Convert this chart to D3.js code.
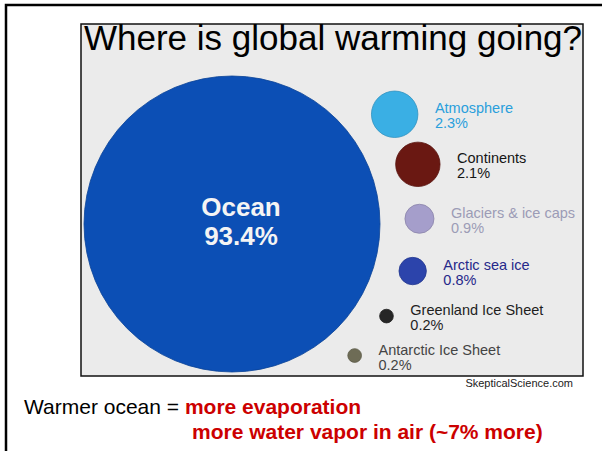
<!DOCTYPE html>
<html>
<head>
<meta charset="utf-8">
<script src="https://cdn.jsdelivr.net/npm/d3@7"></script>
<style>
  html, body { margin: 0; padding: 0; background: #fff; }
  svg { display: block; font-family: "Liberation Sans", Arial, sans-serif; }
</style>
</head>
<body>
<script>
// ---- data ----
const categories = ["Ocean", "Atmosphere", "Continents", "Glaciers & ice caps", "Arctic sea ice", "Greenland Ice Sheet", "Antarctic Ice Sheet"];
const shares = [93.4, 2.3, 2.1, 0.9, 0.8, 0.2, 0.2];
const titleText = "Where is global warming going?";
const sourceText = "SkepticalScience.com";
const noteLead = "Warmer ocean = ";
const noteLines = ["more evaporation", "more water vapor in air (~7% more)"];

const fillColors = ["#0c4fb5", "#3aafe4", "#6a1812", "#a59ecb", "#2c44ab", "#262626", "#6e6c56"];
const textColors = ["#f4f4f4", "#2a9fdc", "#151515", "#9c9cb6", "#26288a", "#1e1e1e", "#444444"];

const W = 602, H = 451;
const svg = d3.select("body").append("svg").attr("width", W).attr("height", H);

// outer slide frame
svg.append("rect").attr("x", 6).attr("y", 5).attr("width", W + 20).attr("height", H + 20)
  .attr("fill", "#fff").attr("stroke", "#000").attr("stroke-width", 2.5);

// chart panel
const panel = { x: 81, y: 24, w: 502, h: 352 };
svg.append("rect").attr("x", panel.x).attr("y", panel.y).attr("width", panel.w).attr("height", panel.h)
  .attr("fill", "#ebebeb").attr("stroke", "#111").attr("stroke-width", 1.5);

svg.append("text").attr("x", 84).attr("y", 50).attr("font-size", 35).attr("fill", "#000")
  .text(titleText);

const data = categories.map((c, i) => ({ name: c, value: shares[i], fill: fillColors[i], tc: textColors[i] }));

const rScale = d3.scaleSqrt().domain([0, d3.max(shares)]).range([0, 148]);
const big = data[0];
const cx0 = 232, cy0 = 224;
big.r = rScale(big.value); big.cx = cx0; big.cy = cy0;

const small = data.slice(1);
const angle = d3.scalePoint().domain(small.map(d => d.name)).range([-34, 47]);
const gap = 25;
small.forEach(d => {
  d.r = rScale(d.value);
  const a = angle(d.name) * Math.PI / 180;
  const dist = big.r + gap + d.r;
  d.cx = cx0 + dist * Math.cos(a);
  d.cy = cy0 + dist * Math.sin(a);
});

const fmt = v => d3.format(".1f")(v) + "%";

svg.append("g").selectAll("circle").data(data).join("circle")
  .attr("cx", d => d.cx).attr("cy", d => d.cy).attr("r", d => d.r)
  .attr("fill", d => d.fill)
  .attr("stroke", d => d3.color(d.fill).darker(0.5)).attr("stroke-width", 0.8);

// ocean label
const ol = svg.append("text").attr("text-anchor", "middle").attr("font-weight", "bold")
  .attr("font-size", 26).attr("fill", big.tc);
ol.append("tspan").attr("x", big.cx + 9).attr("y", 216).text(big.name);
ol.append("tspan").attr("x", big.cx + 9).attr("y", 245).text(fmt(big.value));

// small labels
const lab = svg.append("g").selectAll("text").data(small).join("text")
  .attr("font-size", 14.5).attr("fill", d => d.tc);
lab.append("tspan").attr("x", d => d.cx + d.r + 17).attr("y", d => d.cy - 1).text(d => d.name);
lab.append("tspan").attr("x", d => d.cx + d.r + 17).attr("y", d => d.cy + 14).text(d => fmt(d.value));

// source
svg.append("text").attr("x", 573).attr("y", 387).attr("text-anchor", "end")
  .attr("font-size", 11).attr("fill", "#222").text(sourceText);

// note
const note = svg.append("text").attr("x", 24).attr("y", 414).attr("font-size", 21);
note.append("tspan").attr("fill", "#000").text(noteLead);
note.append("tspan").attr("fill", "#cc0000").attr("font-weight", "bold").text(noteLines[0]);
svg.append("text").attr("x", 192).attr("y", 439).attr("font-size", 21)
  .attr("fill", "#cc0000").attr("font-weight", "bold").text(noteLines[1]);
</script>
</body>
</html>
